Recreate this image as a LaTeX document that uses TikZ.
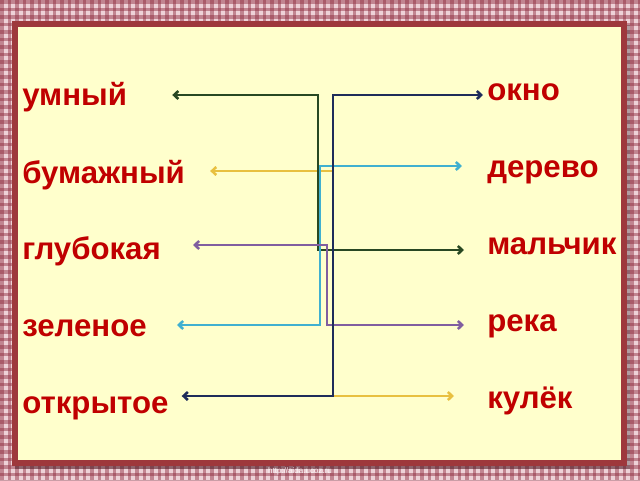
\documentclass[tikz,border=0pt]{standalone}
\usepackage{fontspec}
\setmainfont{Liberation Sans}
\usetikzlibrary{arrows.meta,calc}

\definecolor{wordred}{RGB}{192,0,0}
\definecolor{framered}{RGB}{158,56,60}
\definecolor{cream}{RGB}{255,255,204}
\definecolor{checkbg}{RGB}{238,210,216}
\definecolor{checkline}{RGB}{140,40,60}
\definecolor{lgreen}{RGB}{40,72,34}
\definecolor{lnavy}{RGB}{30,44,90}
\definecolor{lyellow}{RGB}{232,192,64}
\definecolor{lcyan}{RGB}{64,176,208}
\definecolor{lpurple}{RGB}{128,94,160}

\tikzset{
  word/.style={font=\fontsize{23.4}{28}\selectfont\bfseries, text=wordred, inner sep=0pt, anchor=base west},
  link/.style={line width=1.9pt, {Straight Barb[length=3.2pt,width=6pt]}-{Straight Barb[length=3.2pt,width=6pt]}},
}

\begin{document}
\begin{tikzpicture}[x=0.75pt,y=0.75pt,yscale=-1,xscale=1]
\useasboundingbox (0,0) rectangle (640,480);

% checkered background
\fill[checkbg] (0,0) rectangle (640,480);
\foreach \k in {0,...,85} {
  \fill[checkline, opacity=0.45] (\k*7.5,0) rectangle +(3.5,480);
}
\foreach \k in {0,...,64} {
  \fill[checkline, opacity=0.45] (0,\k*7.5) rectangle +(640,3.5);
}

% frame
\fill[black, opacity=0.25] (15,25) rectangle (630,469);
\draw[framered, line width=4.5pt, fill=cream] (14.5,23.5) rectangle (624,463);

% Text Node
\node[word] (umn) at (22,105) {умный};
\node[word] (bum) at (22,183) {бумажный};
\node[word] (glub) at (22,259) {глубокая};
\node[word] (zel) at (22,336) {зеленое};
\node[word] (otkr) at (22,413) {открытое};
% Text Node
\node[word] (okno) at (487,100) {окно};
\node[word] (derevo) at (487,177) {дерево};
\node[word] (malch) at (487,254) {мальчик};
\node[word] (reka) at (487,331) {река};
\node[word] (kul) at (487,408) {кулёк};
% Text Node
\node[font=\fontsize{6}{7}\selectfont, text=white!80!checkbg] (src) at (300,471) {http://aida.ucoz.ru};

% Connection
\draw[link, lyellow] ($(bum.base east)+(25,-12)$) -| (333,300) |- ($(kul.base west)+(-33,-12)$);
% Connection
\draw[link, lgreen] ($(umn.base east)+(45,-10)$) -| (318,170) |- ($(malch.base west)+(-23,-4)$);
% Connection
\draw[link, lcyan] ($(derevo.base west)+(-25,-11)$) -| (320,250) |- ($(zel.base east)+(30,-11)$);
% Connection
\draw[link, lpurple] ($(glub.base east)+(32,-14)$) -| (327,290) |- ($(reka.base west)+(-23,-6)$);
% Connection
\draw[link, lnavy] ($(okno.base west)+(-4,-5)$) -| (333,300) |- ($(otkr.base east)+(13,-17)$);

\end{tikzpicture}
\end{document}
